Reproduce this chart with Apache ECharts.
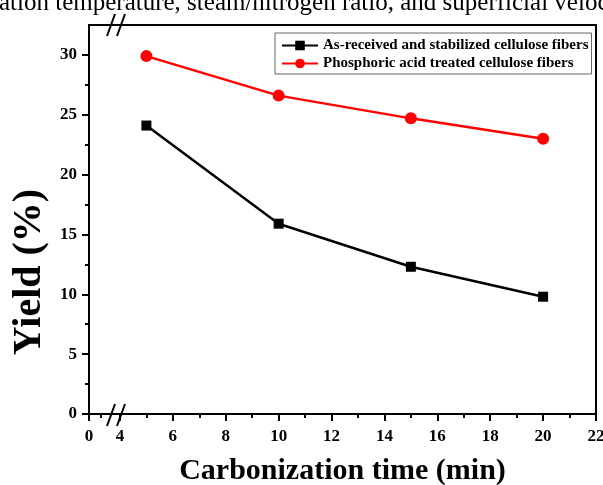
<!DOCTYPE html>
<html>
<head>
<meta charset="utf-8">
<script src="https://cdn.jsdelivr.net/npm/echarts@6/dist/echarts.min.js"></script>
<style>
html,body{margin:0;padding:0;background:#fff;}
#chart{width:603px;height:485px;}
</style>
</head>
<body>
<div id="chart"></div>
<script>
const carbonizationTime = [5, 10, 15, 20];
const asReceivedYield = [24.1, 15.9, 12.3, 9.8];
const phosphoricYield = [29.9, 26.6, 24.7, 23.0];
const xMajorTicks = [0, 4, 6, 8, 10, 12, 14, 16, 18, 20, 22];
const xMinorTicks = [0.45, 5, 7, 9, 11, 13, 15, 17, 19, 21];
const yMajorTicks = [0, 5, 10, 15, 20, 25, 30];
const yMinorTicks = [2.5, 7.5, 12.5, 17.5, 22.5, 27.5];
const seriesNames = ['As-received and stabilized cellulose fibers', 'Phosphoric acid treated cellulose fibers'];
const xAxisTitle = 'Carbonization time (min)';
const yAxisTitle = 'Yield (%)';
const captionText = 'ation temperature, steam/nitrogen ratio, and superficial velocity';

const serif = '"Liberation Serif", "Times New Roman", serif';
const axisBreaks = [{ start: 0.8, end: 3.7, gap: 0.07 }];

const chart = echarts.init(document.getElementById('chart'), null, { renderer: 'canvas' });

function pairs(xs, ys) { return xs.map((x, i) => [x, ys[i]]); }

const option = {
  backgroundColor: '#fff',
  animation: false,
  grid: {
    left: 89, right: 7, top: 25, bottom: 71,
    show: true, borderColor: '#000', borderWidth: 2,
    outerBoundsMode: 'none', containLabel: false
  },
  legend: {
    left: 275, top: 33, orient: 'vertical',
    padding: [5, 3, 3, 6], itemGap: 3,
    itemWidth: 36, itemHeight: 12,
    borderColor: '#666', borderWidth: 1, backgroundColor: '#fff',
    textStyle: { fontFamily: serif, fontWeight: 'bold', fontSize: 15, color: '#000' },
    data: seriesNames
  },
  xAxis: [{
    type: 'value', min: 0, max: 22, interval: 2,
    breaks: axisBreaks,
    breakArea: { show: false, expandOnClick: false },
    name: xAxisTitle, nameLocation: 'middle', nameGap: 42,
    nameTextStyle: { fontFamily: serif, fontWeight: 'bold', fontSize: 30, color: '#000' },
    axisLine: { show: true, onZero: false, lineStyle: { color: '#000', width: 2 } },
    axisTick: { show: true, inside: false, length: 7, lineStyle: { color: '#000', width: 2 }, customValues: xMajorTicks },
    axisLabel: { show: true, margin: 14, customValues: xMajorTicks, fontFamily: serif, fontWeight: 'bold', fontSize: 17, color: '#000' },
    splitLine: { show: false }
  }, {
    type: 'value', min: 0, max: 22, interval: 2, position: 'bottom',
    breaks: axisBreaks,
    breakArea: { show: false, expandOnClick: false },
    axisLine: { show: false },
    axisTick: { show: true, inside: false, length: 4, lineStyle: { color: '#000', width: 2 }, customValues: xMinorTicks },
    axisLabel: { show: false },
    splitLine: { show: false }
  }],
  yAxis: [{
    type: 'value', min: 0, max: 32.5,
    axisLine: { show: true, onZero: false, lineStyle: { color: '#000', width: 2 } },
    axisTick: { show: true, inside: false, length: 7, lineStyle: { color: '#000', width: 2 }, customValues: yMajorTicks },
    axisLabel: { show: true, margin: 12, customValues: yMajorTicks, fontFamily: serif, fontWeight: 'bold', fontSize: 17, color: '#000' },
    splitLine: { show: false }
  }, {
    type: 'value', min: 0, max: 32.5, position: 'left',
    axisLine: { show: false },
    axisTick: { show: true, inside: false, length: 4, lineStyle: { color: '#000', width: 2 }, customValues: yMinorTicks },
    axisLabel: { show: false },
    splitLine: { show: false }
  }],
  series: [{
    name: seriesNames[0], type: 'line', xAxisIndex: 0, yAxisIndex: 0,
    data: pairs(carbonizationTime, asReceivedYield),
    symbol: 'rect', symbolSize: 10,
    lineStyle: { color: '#000', width: 2.5 },
    itemStyle: { color: '#000' }
  }, {
    name: seriesNames[1], type: 'line', xAxisIndex: 0, yAxisIndex: 0,
    data: pairs(carbonizationTime, phosphoricYield),
    symbol: 'circle', symbolSize: 12,
    lineStyle: { color: '#ff0000', width: 2.5 },
    itemStyle: { color: '#ff0000' }
  }],
  graphic: [
    { type: 'text', x: -1, y: 3, silent: true,
      style: { text: captionText, font: '25px "Liberation Serif", serif', fill: '#000', verticalAlign: 'middle' } },
    { type: 'text', x: 30, y: 272, rotation: Math.PI / 2, silent: true,
      style: { text: yAxisTitle, font: 'bold 40px "Liberation Serif", serif', fill: '#000', align: 'center', verticalAlign: 'middle' } },
    { type: 'line', silent: true, z: 100, shape: { x1: 107, y1: 426, x2: 115, y2: 404 }, style: { stroke: '#000', lineWidth: 2 } },
    { type: 'line', silent: true, z: 100, shape: { x1: 117, y1: 426, x2: 125, y2: 404 }, style: { stroke: '#000', lineWidth: 2 } },
    { type: 'line', silent: true, z: 100, shape: { x1: 107, y1: 36, x2: 115, y2: 14 }, style: { stroke: '#000', lineWidth: 2 } },
    { type: 'line', silent: true, z: 100, shape: { x1: 117, y1: 36, x2: 125, y2: 14 }, style: { stroke: '#000', lineWidth: 2 } }
  ]
};
chart.setOption(option);
</script>
</body>
</html>
